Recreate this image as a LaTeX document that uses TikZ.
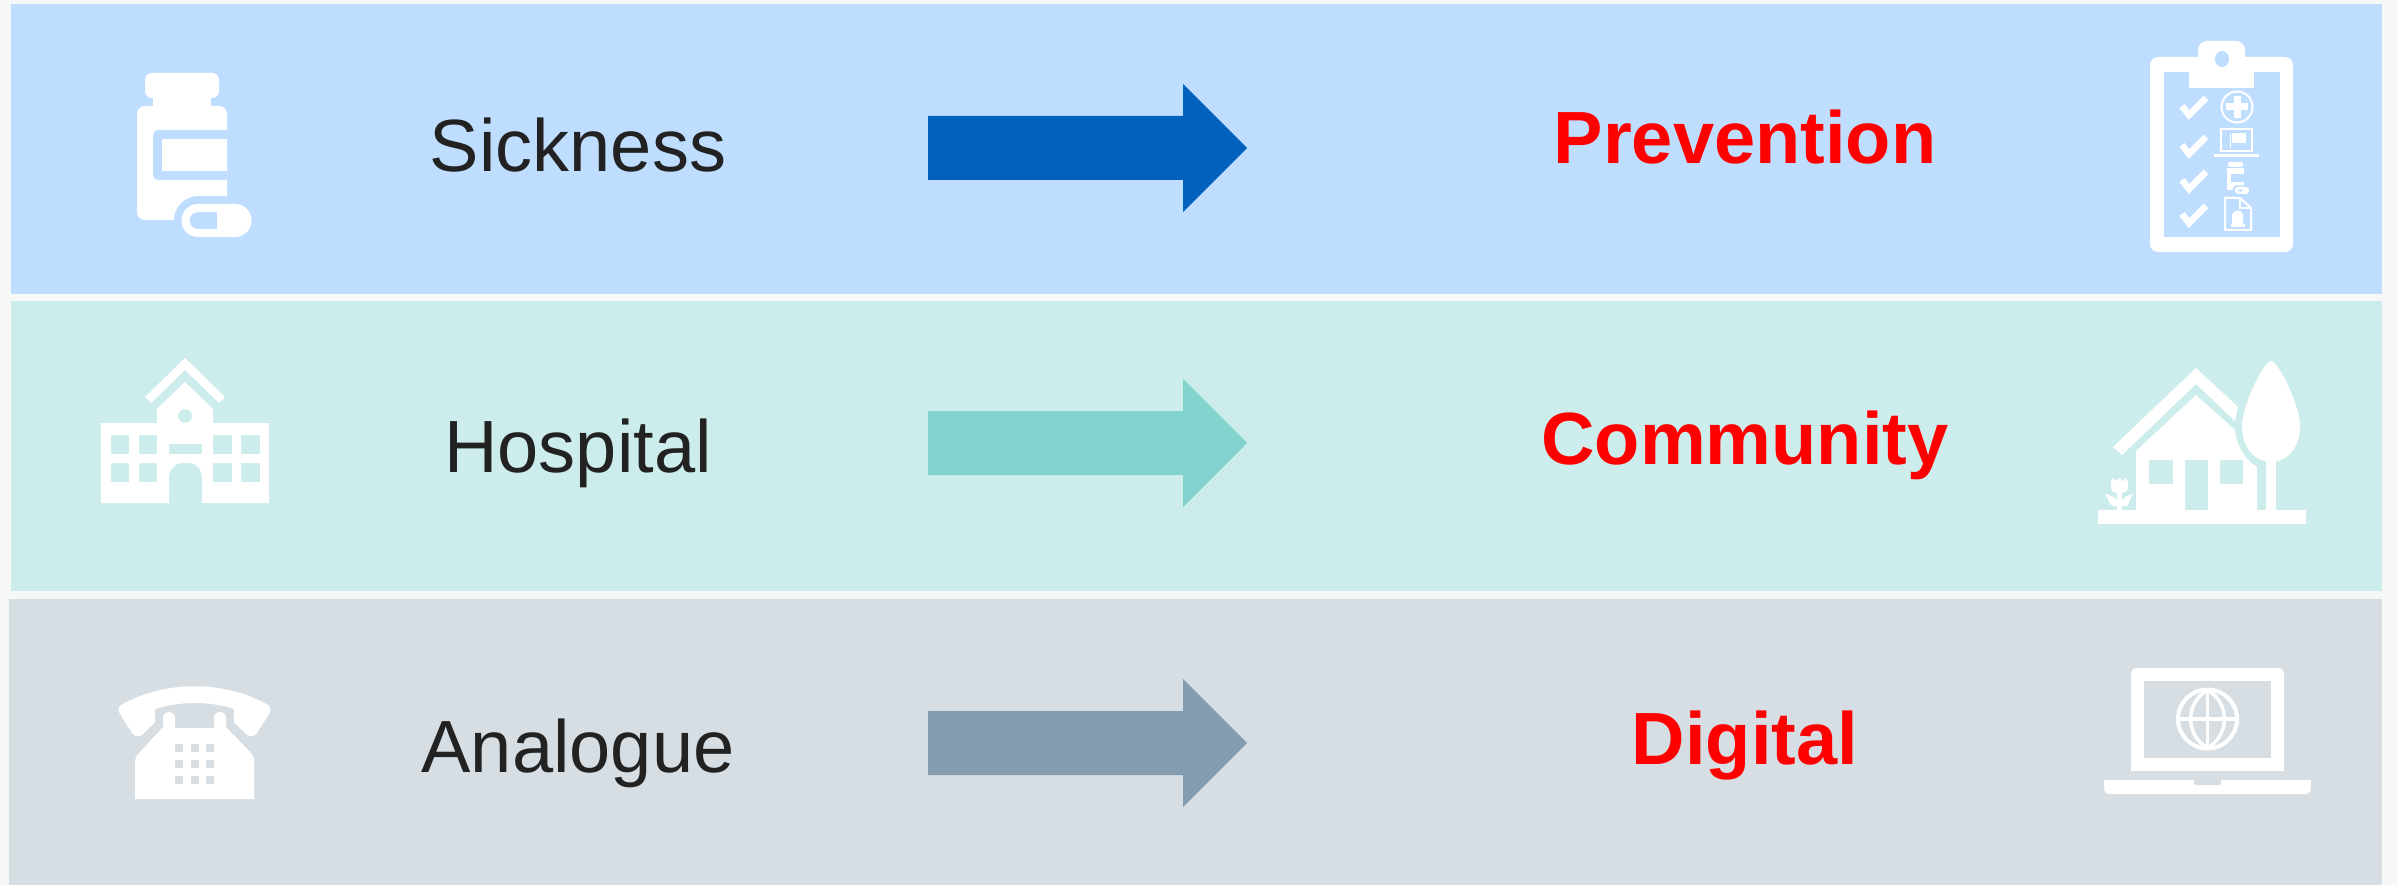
\documentclass[tikz,border=0pt]{standalone}
\usepackage{fontspec}
\setmainfont{Liberation Sans}
\definecolor{pagebg}{HTML}{F6F8F8}
\definecolor{bandA}{HTML}{BFDEFF}
\definecolor{bandB}{HTML}{CCEDEB}
\definecolor{bandC}{HTML}{D6DEE4}
\definecolor{arrA}{HTML}{0060BB}
\definecolor{arrB}{HTML}{82D3CD}
\definecolor{arrC}{HTML}{849CAF}
\definecolor{txt}{HTML}{222222}
\tikzset{
 from/.style={font=\fontsize{74}{74}\selectfont,text=txt,inner sep=0pt,anchor=base},
 to/.style={font=\fontsize{74}{74}\selectfont\bfseries,text=red,inner sep=0pt,anchor=base},
 ico/.style={fill=white,draw=none},
}
\newcommand{\bigarrow}[2]{\fill[#1] (928,#2-32) -- (1183,#2-32) -- (1183,#2-64) -- (1247,#2) -- (1183,#2+64) -- (1183,#2+32) -- (928,#2+32) -- cycle;}
\begin{document}
\begin{tikzpicture}[x=1pt,y=-1pt]
\useasboundingbox (0,0) rectangle (2397,885);
\fill[pagebg] (0,0) rectangle (2397,885);
\fill[bandA] (11,4) rectangle (2382,294);
\fill[bandB] (11,301) rectangle (2382,591);
\fill[bandC] (9,599) rectangle (2382,885);
\bigarrow{arrA}{148}
\bigarrow{arrB}{443}
\bigarrow{arrC}{743}
\node[from] (t1) at (578,172) {Sickness};
\node[from] (t2) at (578,472) {Hospital};
\node[from] (t3) at (578,772) {Analogue};
\node[to] (t4) at (1745,164) {Prevention};
\node[to] (t5) at (1745,464) {Community};
\node[to] (t6) at (1745,764) {Digital};
% bottle
\fill[ico,rounded corners=7pt] (145,73) rectangle (219,98);
\fill[ico] (153,90) rectangle (211,112);
\fill[ico] (145,106) -- (219,106) arc (-90:0:8) -- (227,196) -- (198,196) arc (-90:-180:24) -- (145,220) arc (90:180:8) -- (137,114) arc (180:270:8) -- cycle;
\fill[bandA] (227,130) -- (158,130) arc (-90:-180:5) -- (153,175) arc (180:90:5) -- (227,180) -- cycle;
\fill[ico] (162,139) rectangle (227,171);
\fill[ico,even odd rule] (198,204) -- (235,204) arc (-90:90:16.5) -- (198,237) arc (90:270:16.5) -- cycle
  (217,212) -- (198,212) arc (-90:-270:8.5) -- (217,229) -- cycle;
% clipboard
\fill[ico,rounded corners=9pt] (2198,41) rectangle (2245,75);
\fill[ico,rounded corners=8pt] (2150,57) rectangle (2293,252);
\fill[bandA] (2164,72) rectangle (2280,237);
\fill[ico] (2189,57) rectangle (2254,88);
\fill[ico] (2198,50) rectangle (2245,60);
\fill[bandA] (2222,59) ellipse (7 and 8);
\foreach \y in {106,145,180,214}{
 \draw[white,line width=6.5pt] (2182,\y) -- (2189,\y+9) -- (2206,\y-8);
}
\draw[white,line width=2pt] (2237,107) circle (15.5);
\draw[white,line width=7pt] (2237,96) -- (2237,118) (2226,107) -- (2248,107);
\draw[white,line width=2.5pt] (2221,129) rectangle (2252,151);
\fill[ico] (2214,154) rectangle (2259,157);
\fill[ico] (2229.5,133) rectangle (2231,148);
\fill[ico] (2232,133) rectangle (2246,143);
\fill[ico,rounded corners=1.5pt] (2228,162) rectangle (2243,167);
\fill[ico] (2227,168) rectangle (2244,190);
\fill[bandA] (2231,174) rectangle (2244,182);
\fill[bandA,rounded corners=3pt] (2233,185.5) rectangle (2251,195.5);
\fill[ico,even odd rule,rounded corners=3pt] (2235,187) rectangle (2249,194) (2237.5,189) rectangle (2243,192);
\draw[white,line width=2pt] (2225,198) -- (2240,198) -- (2251,208) -- (2251,230) -- (2225,230) -- cycle;
\draw[white,line width=1.5pt] (2240,198) -- (2240,208) -- (2251,208);
\fill[ico] (2232,224) -- (2232,215) .. controls (2232,209) and (2243,209) .. (2243,215) -- (2243,224) -- cycle;
\fill[ico] (2231,224.5) rectangle (2245,227);
% school
\fill[ico] (185,358) -- (225,397) -- (219,403) -- (185,370) -- (151,403) -- (145,397) -- cycle;
\fill[ico,even odd rule] (101,423) -- (157,423) -- (157,409) -- (185,382) -- (213,409) -- (213,423) -- (269,423) -- (269,503) -- (202,503) -- (202,478) .. controls (202,468) and (194,463) .. (190,463) -- (181,463) .. controls (177,463) and (169,468) .. (169,478) -- (169,503) -- (101,503) -- cycle
 (111,435) rectangle (129,454) (139,435) rectangle (157,454)
 (213,435) rectangle (232,454) (241,435) rectangle (260,454)
 (111,463) rectangle (129,482) (139,463) rectangle (157,482)
 (213,463) rectangle (232,482) (241,463) rectangle (260,482)
 (169,444) rectangle (202,454)
 (185,416) circle (7);
% house
\fill[ico] (2113,447) -- (2196,368) -- (2238,407) -- (2235,421) -- (2196,384) -- (2122,455) -- cycle;
\fill[ico,even odd rule] (2136,510) -- (2136,451) -- (2196,395) -- (2235,430) .. controls (2236,445) and (2245,460) .. (2257,467) -- (2257,510) -- cycle
 (2149,460) rectangle (2173,484) (2185,460) rectangle (2208,510) (2220,460) rectangle (2243,484);
\fill[ico] (2271,361) .. controls (2278,361) and (2300,405) .. (2300,426) .. controls (2300,450) and (2285,462) .. (2271,462) .. controls (2257,462) and (2242,450) .. (2242,426) .. controls (2242,405) and (2264,361) .. (2271,361) -- cycle;
\fill[ico] (2266,460) rectangle (2276,512);
\fill[ico] (2098,510) rectangle (2306,524);
\fill[ico] (2111,482) -- (2113,478) -- (2116,481) -- (2119.5,478) -- (2123,481) -- (2126,478) -- (2128,482) -- (2128,487) .. controls (2128,491) and (2125,493) .. (2122,493) -- (2117,493) .. controls (2114,493) and (2111,491) .. (2111,487) -- cycle;
\fill[ico] (2117,490) rectangle (2122,511);
\fill[ico] (2105,494) .. controls (2110,495) and (2114,497) .. (2117,500) -- (2117,506) -- (2113,506) .. controls (2109,505) and (2109,499) .. (2105,494) -- cycle;
\fill[ico] (2133,494) .. controls (2128,495) and (2125,497) .. (2122,500) -- (2122,506) -- (2126,506) .. controls (2130,505) and (2129,499) .. (2133,494) -- cycle;
% phone
\fill[ico] (121,705) .. controls (165,680) and (225,680) .. (268,705) .. controls (271,707) and (271,711) .. (269,714) -- (257,733) .. controls (254,737) and (250,737) .. (247,735) -- (234,722) -- (234,709) .. controls (210,701) and (180,701) .. (155,709) -- (155,722) -- (142,735) .. controls (139,737) and (135,737) .. (132,733) -- (120,714) .. controls (118,711) and (118,707) .. (121,705) -- cycle;
\fill[ico] (135,799) -- (135,762) .. controls (135,758) and (137,755) .. (140,752) -- (163,727) -- (163,718) arc (180:360:6) -- (175,728) -- (214,728) -- (214,718) arc (180:360:6) -- (226,727) -- (250,752) .. controls (253,755) and (254,758) .. (254,762) -- (254,799) -- cycle;
\foreach \x in {175,190.5,206}\foreach \y in {744,760,775.5}{\fill[bandC] (\x,\y) rectangle +(8,8);}
% laptop
\fill[ico,rounded corners=5pt] (2131,668) -- (2284,668) -- (2284,690) -- (2131,690) -- cycle;
\fill[ico] (2131,680) rectangle (2284,771);
\fill[bandC] (2144,681) rectangle (2271,758);
\draw[white,line width=4pt] (2207.5,719) circle (29.5);
\draw[white,line width=3.5pt] (2207.5,690) -- (2207.5,748) (2178,719) -- (2237,719);
\draw[white,line width=3.5pt] (2207.5,690) .. controls (2185,703) and (2185,735) .. (2207.5,748) .. controls (2230,735) and (2230,703) .. (2207.5,690);
\fill[ico,rounded corners=5pt] (2104,783) -- (2311,783) -- (2311,794) -- (2104,794) -- cycle;
\fill[ico] (2104,780) rectangle (2311,786);
\fill[bandC,rounded corners=1.5pt] (2194,775) rectangle (2221,785);
\fill[bandC] (2190,775) rectangle (2225,780);
\end{tikzpicture}
\end{document}
